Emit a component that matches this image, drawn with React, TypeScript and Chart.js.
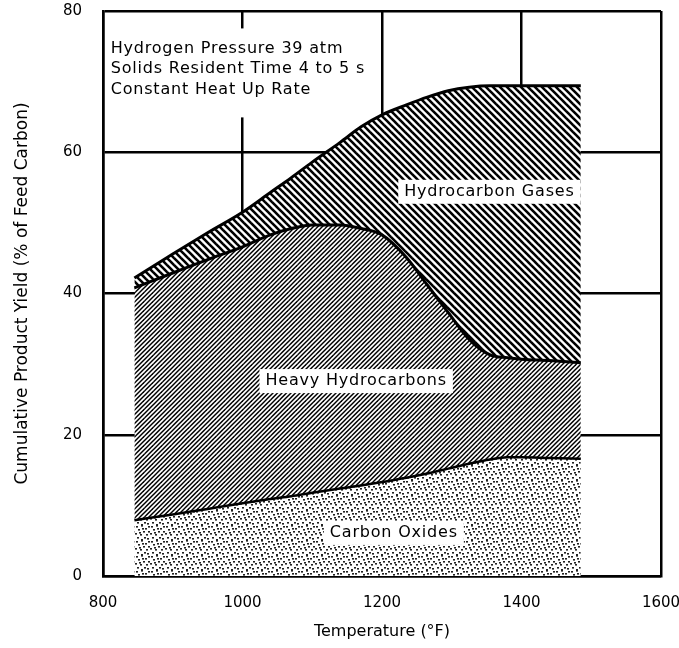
import React, { useEffect, useRef } from 'react';
import { Chart, registerables } from 'chart.js';

Chart.register(...registerables);

// Temperature (°F) sample points shared by all boundaries
const temperatures = [845, 900, 950, 1000, 1040, 1070, 1100, 1140, 1170, 1200, 1235, 1265, 1295, 1325, 1355, 1380, 1400, 1440, 1485];
// Cumulative yields (% of feed carbon) – upper boundary of each band
const carbonOxides = [7.9, 8.7, 9.5, 10.3, 10.9, 11.3, 11.8, 12.4, 12.8, 13.3, 13.9, 14.5, 15.2, 15.9, 16.5, 16.8, 16.8, 16.7, 16.6];
const heavyHydrocarbons = [40.8, 42.9, 44.8, 46.6, 48.3, 49.2, 49.7, 49.7, 49.2, 48.3, 45.1, 41.2, 37.3, 33.5, 31.3, 30.9, 30.7, 30.5, 30.2];
const hydrocarbonGases = [42.2, 45.6, 48.6, 51.5, 54.3, 56.4, 58.6, 61.4, 63.6, 65.3, 66.7, 67.8, 68.7, 69.2, 69.4, 69.4, 69.4, 69.4, 69.4];

const xTicks = [800, 1000, 1200, 1400, 1600];
const yTicks = [0, 20, 40, 60, 80];

const conditionLines = ['Hydrogen Pressure 39 atm', 'Solids Resident Time 4 to 5 s', 'Constant Heat Up Rate'];
const conditionX = 811;
const conditionY = [74.7, 71.8, 68.9];

const regionLabels = ['Hydrocarbon Gases', 'Heavy Hydrocarbons', 'Carbon Oxides'];
const regionLabelX = [1354, 1163, 1217];
const regionLabelY = [54.4, 27.6, 6.1];

const FONT = '"DejaVu Sans", "Liberation Sans", Arial, sans-serif';

function hatch(size: number, count: number, width: number, dir: 'back' | 'fwd'): CanvasPattern | string {
  const c = document.createElement('canvas');
  c.width = size;
  c.height = size;
  const g = c.getContext('2d');
  if (!g) return '#666';
  g.fillStyle = '#fff';
  g.fillRect(0, 0, size, size);
  g.strokeStyle = '#000';
  g.lineWidth = width;
  g.lineCap = 'square';
  const step = size / count;
  for (let i = -count - 1; i <= 2 * count + 1; i++) {
    const o = i * step;
    g.beginPath();
    if (dir === 'back') {
      g.moveTo(o - size, -size);
      g.lineTo(o + 2 * size, 2 * size);
    } else {
      g.moveTo(o - size, 2 * size);
      g.lineTo(o + 2 * size, -size);
    }
    g.stroke();
  }
  return g.createPattern(c, 'repeat') || '#666';
}

const stippleDots = [
  [1, 1], [6, 0], [10, 3], [3, 4], [8, 6], [0, 8], [5, 9], [11, 9], [2, 12], [9, 12],
  [6, 14], [13, 1], [13, 6], [12, 13], [4, 7], [7, 3],
];

function stipple(): CanvasPattern | string {
  const size = 15;
  const c = document.createElement('canvas');
  c.width = size;
  c.height = size;
  const g = c.getContext('2d');
  if (!g) return '#ddd';
  g.fillStyle = '#fff';
  g.fillRect(0, 0, size, size);
  g.fillStyle = '#222';
  stippleDots.forEach(([x, y]) => g.fillRect(x, y, 2, 1.6));
  return g.createPattern(c, 'repeat') || '#ddd';
}

const labelPlugin = {
  id: 'regionLabels',
  afterDraw(chart: any) {
    const { ctx, scales, chartArea } = chart;
    const x = scales.x;
    const y = scales.y;
    ctx.save();
    ctx.font = `16px ${FONT}`;
    try { (ctx as any).letterSpacing = '0.8px'; } catch (e) { /* ignore */ }
    ctx.textBaseline = 'middle';
    ctx.textAlign = 'left';

    // conditions block
    const cx0 = x.getPixelForValue(conditionX);
    const ys = conditionY.map((v) => y.getPixelForValue(v));
    const maxW = Math.max(...conditionLines.map((t) => ctx.measureText(t).width));
    ctx.fillStyle = '#fff';
    ctx.fillRect(chartArea.left + 2, ys[0] - 20, cx0 - chartArea.left + maxW + 4, ys[2] - ys[0] + 48);
    ctx.fillStyle = '#000';
    conditionLines.forEach((t, i) => ctx.fillText(t, cx0, ys[i]));

    regionLabels.forEach((t, i) => {
      const w = ctx.measureText(t).width;
      const px = x.getPixelForValue(regionLabelX[i]);
      const py = y.getPixelForValue(regionLabelY[i]);
      ctx.fillStyle = '#fff';
      ctx.fillRect(px - w / 2 - 6, py - 12, w + 12, 24);
      ctx.fillStyle = '#000';
      ctx.fillText(t, px - w / 2, py);
    });
    ctx.restore();
  },
};

export default function App() {
  const ref = useRef<HTMLCanvasElement | null>(null);

  useEffect(() => {
    const canvas = ref.current;
    if (!canvas) return;
    const toPts = (vals: number[]) => temperatures.map((t, i) => ({ x: t, y: vals[i] }));
    const tickFont = { family: FONT, size: 15 };
    const chart = new Chart(canvas, {
      type: 'line',
      data: {
        datasets: [
          {
            label: 'Carbon Oxides',
            data: toPts(carbonOxides),
            borderColor: '#000',
            borderWidth: 2.5,
            backgroundColor: stipple() as any,
            fill: 'origin',
            pointRadius: 0,
            cubicInterpolationMode: 'monotone',
          },
          {
            label: 'Heavy Hydrocarbons',
            data: toPts(heavyHydrocarbons),
            borderColor: '#000',
            borderWidth: 3,
            backgroundColor: hatch(9, 2, 1.5, 'fwd') as any,
            fill: '-1',
            pointRadius: 0,
            cubicInterpolationMode: 'monotone',
          },
          {
            label: 'Hydrocarbon Gases',
            data: toPts(hydrocarbonGases),
            borderColor: '#000',
            borderWidth: 3,
            backgroundColor: hatch(7, 1, 2.6, 'back') as any,
            fill: '-1',
            pointRadius: 0,
            cubicInterpolationMode: 'monotone',
          },
        ],
      },
      options: {
        animation: false,
        responsive: false,
        layout: { padding: { left: 0, right: 18, top: 11, bottom: 0 } },
        plugins: { legend: { display: false }, tooltip: { enabled: false } },
        scales: {
          x: {
            type: 'linear',
            min: 800,
            max: 1600,
            z: 1,
            afterBuildTicks: (s: any) => { s.ticks = xTicks.map((v) => ({ value: v })); },
            afterFit: (s: any) => { s.height = 72; s.paddingLeft = 0; s.paddingRight = 0; },
            grid: { color: '#000', lineWidth: 2.5, drawTicks: false },
            border: { color: '#000', width: 2.5 },
            ticks: { color: '#000', padding: 18, font: tickFont, maxRotation: 0, callback: (v: any) => String(v) },
            title: {
              display: true,
              text: 'Temperature (°F)',
              color: '#000',
              font: { family: FONT, size: 16 },
              padding: { top: 0, bottom: 7 },
            },
          },
          y: {
            type: 'linear',
            min: 0,
            max: 80,
            z: 1,
            afterBuildTicks: (s: any) => { s.ticks = yTicks.map((v) => ({ value: v })); },
            afterFit: (s: any) => { s.width = 103; s.paddingTop = 0; s.paddingBottom = 0; },
            grid: { color: '#000', lineWidth: 2.5, drawTicks: false },
            border: { color: '#000', width: 2.5 },
            ticks: { color: '#000', padding: 21, font: tickFont, callback: (v: any) => String(v) },
            title: {
              display: true,
              text: 'Cumulative Product Yield (% of Feed Carbon)',
              color: '#000',
              font: { family: FONT, size: 17 },
              padding: { top: 12, bottom: 0 },
            },
          },
        },
      } as any,
      plugins: [labelPlugin],
    });
    return () => chart.destroy();
  }, []);

  return (
    <div style={{ position: 'absolute', left: 0, top: 0, width: 679, height: 648, background: '#fff' }}>
      <canvas ref={ref} width={679} height={648} style={{ display: 'block' }} />
    </div>
  );
}
